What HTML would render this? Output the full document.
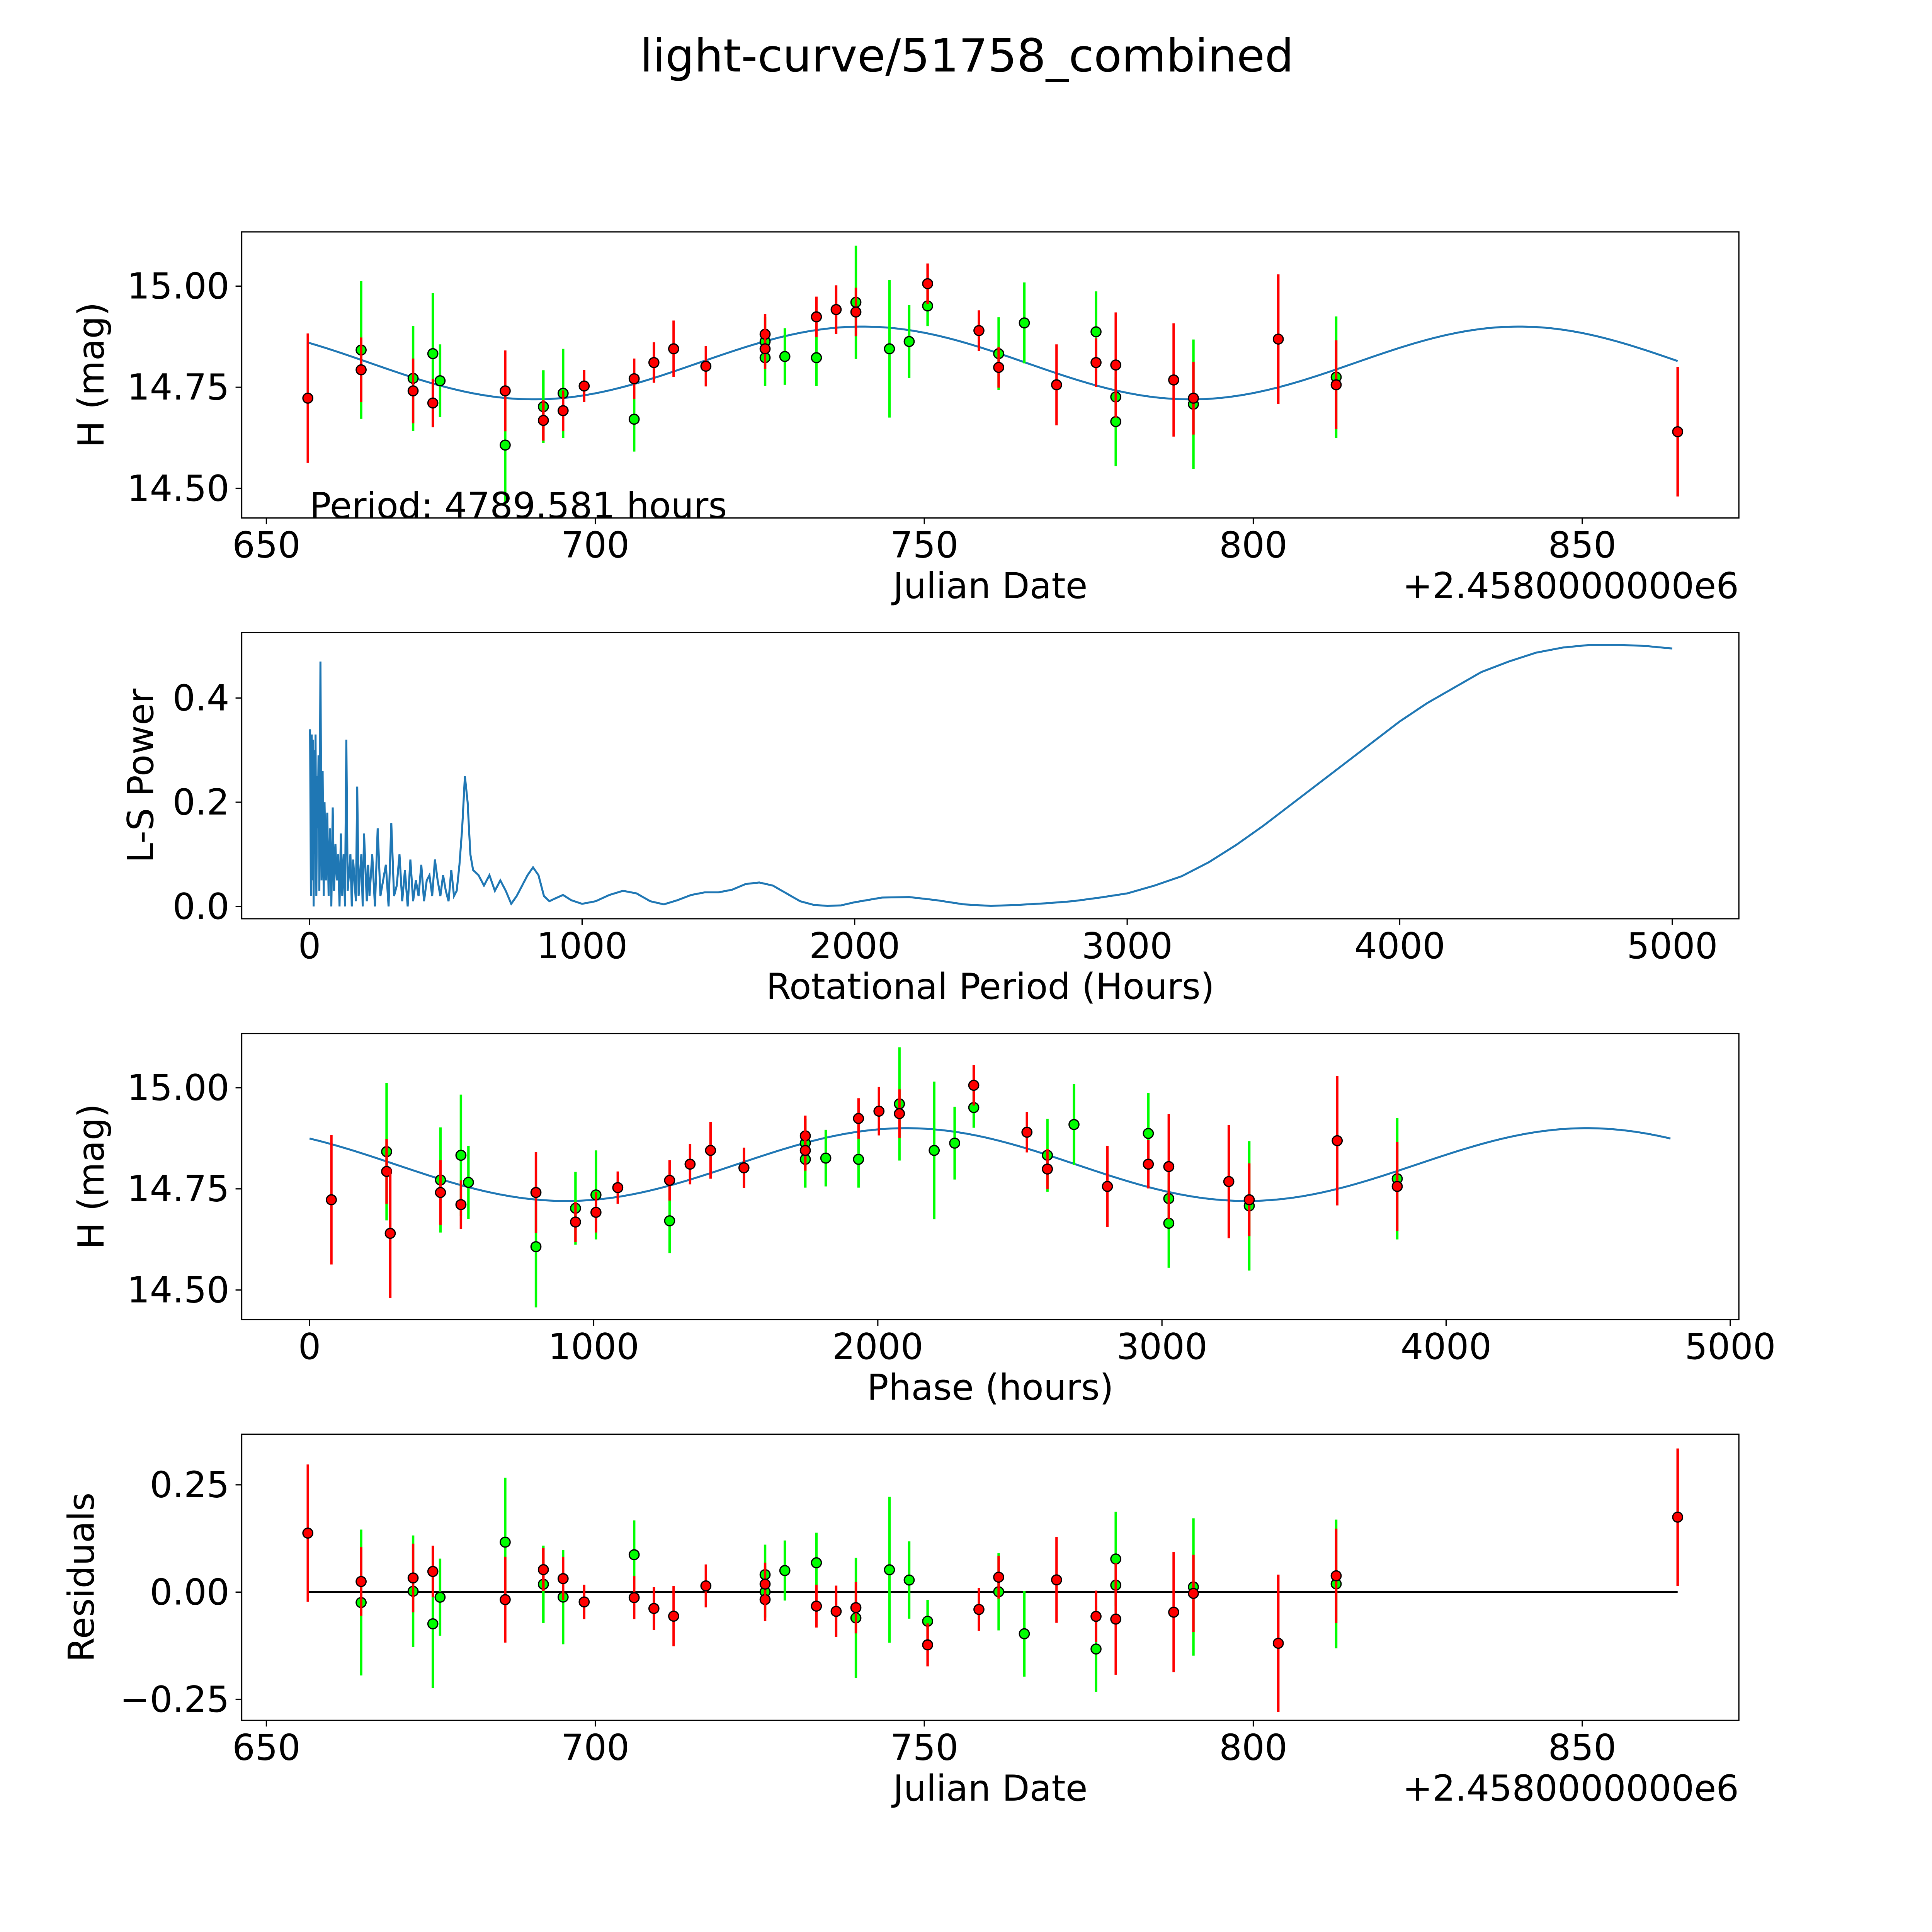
<!DOCTYPE html>
<html><head><meta charset="utf-8"><style>
html,body{margin:0;padding:0;background:#fff;width:100vw;height:100vh;overflow:hidden}
svg{display:block;width:100vw;height:100vh}
text{font-family:"DejaVu Sans","Liberation Sans",sans-serif;fill:#000}
</style></head><body>
<svg id="fig" viewBox="0 0 1566.6 1566.6" preserveAspectRatio="none" xmlns="http://www.w3.org/2000/svg">
<rect width="1566.6" height="1566.6" fill="#fff"/>
<text x="784" y="58" font-size="37" text-anchor="middle">light-curve/51758_combined</text>
<g id="g"></g>
</svg>
<script>
// ---- data ----
const redJD=[656.3,664.4,672.3,675.3,686.3,692.1,695.1,698.3,705.9,708.9,711.9,716.8,725.8,725.8,733.6,736.6,739.6,750.5,758.3,761.3,770.1,776.1,779.1,787.9,790.9,803.8,812.6,864.5];
const redMag=[14.723,14.793,14.741,14.711,14.741,14.668,14.692,14.753,14.771,14.811,14.845,14.802,14.881,14.845,14.924,14.942,14.936,15.006,14.890,14.799,14.756,14.811,14.805,14.768,14.723,14.869,14.756,14.640];
const redErr=[0.16,0.08,0.08,0.06,0.10,0.05,0.05,0.04,0.05,0.05,0.07,0.05,0.05,0.05,0.05,0.06,0.06,0.05,0.05,0.05,0.10,0.06,0.13,0.14,0.09,0.16,0.11,0.16];
const greenJD=[664.4,672.3,675.3,676.4,686.3,692.1,695.1,705.9,725.8,725.8,728.8,733.6,739.6,744.7,747.7,750.5,761.3,765.2,776.1,779.1,779.1,790.9,812.6];
const greenMag=[14.842,14.772,14.833,14.766,14.607,14.702,14.735,14.671,14.823,14.863,14.826,14.823,14.960,14.845,14.863,14.951,14.833,14.909,14.887,14.726,14.665,14.708,14.775];
const greenErr=[0.17,0.13,0.15,0.09,0.15,0.09,0.11,0.08,0.07,0.06,0.07,0.07,0.14,0.17,0.09,0.05,0.09,0.10,0.10,0.06,0.11,0.16,0.15];
const PERIOD_H=4789.581, T0=653.1, MEAN=14.81, AMP=0.09, TPEAK=740.6;
const lsPeriod=[2,5,8,10,12,15,18,20,22,25,28,30,33,36,40,44,48,52,55,60,65,70,75,80,85,90,95,100,105,110,115,120,125,130,135,140,150,155,160,170,175,180,190,195,200,210,215,220,230,240,250,260,270,280,290,300,310,320,330,340,350,360,370,380,390,400,410,420,430,440,450,460,470,480,490,500,510,520,530,540,550,560,570,580,590,600,620,640,660,680,700,720,740,760,780,800,820,840,860,880,900,930,960,1000,1050,1100,1150,1200,1250,1300,1350,1400,1450,1500,1550,1600,1650,1700,1750,1800,1850,1900,1950,2000,2100,2200,2300,2400,2500,2600,2700,2800,2900,3000,3100,3200,3300,3400,3500,3600,3700,3800,3900,4000,4100,4200,4300,4400,4500,4600,4700,4800,4900,5000];
const lsPower=[0.34,0.02,0.33,0.05,0.32,0.0,0.3,0.1,0.33,0.02,0.25,0.15,0.29,0.03,0.47,0.05,0.26,0.02,0.2,0.05,0.18,0.02,0.15,0.0,0.19,0.03,0.12,0.05,0.1,0.0,0.14,0.02,0.1,0.0,0.32,0.03,0.1,0.0,0.09,0.01,0.23,0.02,0.1,0.0,0.14,0.01,0.08,0.02,0.1,0.0,0.15,0.02,0.05,0.08,0.0,0.16,0.02,0.04,0.1,0.01,0.07,0.0,0.09,0.01,0.05,0.02,0.08,0.01,0.05,0.06,0.02,0.09,0.05,0.02,0.06,0.03,0.01,0.07,0.02,0.03,0.08,0.15,0.25,0.2,0.1,0.07,0.06,0.04,0.06,0.03,0.05,0.03,0.005,0.02,0.04,0.06,0.075,0.06,0.02,0.01,0.015,0.022,0.012,0.005,0.01,0.022,0.03,0.025,0.01,0.004,0.012,0.022,0.027,0.027,0.032,0.043,0.046,0.04,0.025,0.01,0.003,0.001,0.002,0.008,0.017,0.018,0.012,0.004,0.001,0.003,0.006,0.01,0.017,0.025,0.04,0.058,0.085,0.118,0.155,0.195,0.235,0.275,0.315,0.355,0.39,0.42,0.45,0.47,0.487,0.497,0.502,0.502,0.5,0.495];

// ---- helpers ----
const NS="http://www.w3.org/2000/svg";
const G=document.getElementById('g');
function mk(tag,attrs,parent,name,inter){const e=document.createElementNS(NS,tag);for(const k in attrs)e.setAttribute(k,attrs[k]);


(parent||G).appendChild(e);return e;}
function model(t){return MEAN+AMP*Math.cos(4*Math.PI*(t-TPEAK)*24/PERIOD_H);}
function phaseOf(t){let p=((t-T0)*24)%PERIOD_H;if(p<0)p+=PERIOD_H;return p;}
function lin(d0,d1,p0,p1){return v=>p0+(v-d0)*(p1-p0)/(d1-d0);}

function axes(name,y0,y1,xs,ys,xticks,yticks,xfmt,yfmt,xlabel,ylabel,ylx,offset){
  const g=mk('g',{},G,name,false);
  mk('rect',{x:196,y:y0,width:1214,height:y1-y0,fill:'none',stroke:'#000','stroke-width':1},g,name+'-frame',false);
  xticks.forEach(v=>{const x=xs(v);
    mk('line',{x1:x,x2:x,y1:y1,y2:y1+5,stroke:'#000'},g,'x-tick',false);
    const t=mk('text',{x:x,y:y1+32,'font-size':29,'text-anchor':'middle'},g,'x-tick-label',false);t.textContent=xfmt(v);});
  yticks.forEach(v=>{const y=ys(v);
    mk('line',{x1:191,x2:196,y1:y,y2:y,stroke:'#000'},g,'y-tick',false);
    const t=mk('text',{x:186,y:y+10,'font-size':29,'text-anchor':'end'},g,'y-tick-label',false);t.textContent=yfmt(v);});
  const xl=mk('text',{x:803,y:y1+65,'font-size':29,'text-anchor':'middle'},g,'x-axis-title',false);xl.textContent=xlabel;
  const cy=(y0+y1)/2;
  const yl=mk('text',{x:ylx,y:cy,'font-size':29,'text-anchor':'middle',transform:`rotate(-90 ${ylx} ${cy})`},g,'y-axis-title',false);yl.textContent=ylabel;
  if(offset){const o=mk('text',{x:1410,y:y1+65,'font-size':29,'text-anchor':'end'},g,'x-offset-text',false);o.textContent=offset;}
  return g;
}
function pt(g,x,y,ylo,yhi,col,name){
  mk('line',{x1:x,x2:x,y1:ylo,y2:yhi,stroke:col,'stroke-width':2},g,name+'-errorbar',false);
  mk('circle',{cx:x,cy:y,r:4,fill:col,stroke:'#000','stroke-width':1},g,name,false);
}
const f2=v=>v.toFixed(2), f1=v=>v.toFixed(1), fi=v=>String(v);
const jdTicks=[650,700,750,800,850];

// ---- panel 1 ----
{const xs=lin(650,850,216,1283), ys=lin(14.5,15.0,396,232);
 const g=axes('light-curve-panel',188,420,xs,ys,jdTicks,[14.5,14.75,15.0],fi,f2,'Julian Date','H (mag)',84,'+2.4580000000e6');
 let d='';for(let i=0;i<=300;i++){const t=redJD[0]+(redJD[redJD.length-1]-redJD[0])*i/300;d+=(i?'L':'M')+xs(t).toFixed(2)+','+ys(model(t)).toFixed(2);}
 mk('path',{d:d,fill:'none',stroke:'#1f77b4','stroke-width':1.6},g,'model-curve',false);
 greenJD.forEach((t,i)=>pt(g,xs(t),ys(greenMag[i]),ys(greenMag[i]-greenErr[i]),ys(greenMag[i]+greenErr[i]),'#00ff00','green-point'));
 redJD.forEach((t,i)=>pt(g,xs(t),ys(redMag[i]),ys(redMag[i]-redErr[i]),ys(redMag[i]+redErr[i]),'#ff0000','red-point'));
 const p=mk('text',{x:251,y:420,'font-size':29},g,'period-annotation',false);p.textContent='Period: '+PERIOD_H.toFixed(3)+' hours';
}
// ---- panel 2 ----
{const xs=lin(0,5000,251,1356), ys=lin(0,0.4,735,566);
 const g=axes('periodogram-panel',513,745,xs,ys,[0,1000,2000,3000,4000,5000],[0,0.2,0.4],fi,f1,'Rotational Period (Hours)','L-S Power',124,null);
 let d='';lsPeriod.forEach((p,i)=>{d+=(i?'L':'M')+xs(p).toFixed(2)+','+ys(lsPower[i]).toFixed(2);});
 mk('path',{d:d,fill:'none',stroke:'#1f77b4','stroke-width':1.6},g,'periodogram-line',false);
}
// ---- panel 3 ----
{const xs=lin(0,5000,251,1403), ys=lin(14.5,15.0,1046,882);
 const g=axes('phase-panel',838,1070,xs,ys,[0,1000,2000,3000,4000,5000],[14.5,14.75,15.0],fi,f2,'Phase (hours)','H (mag)',84,null);
 let d='';for(let i=0;i<=300;i++){const ph=PERIOD_H*i/300;const t=T0+ph/24;d+=(i?'L':'M')+xs(ph).toFixed(2)+','+ys(model(t)).toFixed(2);}
 mk('path',{d:d,fill:'none',stroke:'#1f77b4','stroke-width':1.6},g,'phase-model-curve',false);
 greenJD.forEach((t,i)=>{const x=xs(phaseOf(t));pt(g,x,ys(greenMag[i]),ys(greenMag[i]-greenErr[i]),ys(greenMag[i]+greenErr[i]),'#00ff00','green-phase-point');});
 redJD.forEach((t,i)=>{const x=xs(phaseOf(t));pt(g,x,ys(redMag[i]),ys(redMag[i]-redErr[i]),ys(redMag[i]+redErr[i]),'#ff0000','red-phase-point');});
}
// ---- panel 4 ----
{const xs=lin(650,850,216,1283), ys=lin(0,0.25,1291,1204);
 const g=axes('residuals-panel',1163,1395,xs,ys,jdTicks,[-0.25,0,0.25],fi,v=>(v<0?'\u2212':'')+Math.abs(v).toFixed(2),'Julian Date','Residuals',76,'+2.4580000000e6');
 mk('line',{x1:xs(redJD[0]),x2:xs(redJD[redJD.length-1]),y1:ys(0),y2:ys(0),stroke:'#000','stroke-width':1.5},g,'zero-line',false);
 greenJD.forEach((t,i)=>{const r=model(t)-greenMag[i];pt(g,xs(t),ys(r),ys(r-greenErr[i]),ys(r+greenErr[i]),'#00ff00','green-residual');});
 redJD.forEach((t,i)=>{const r=model(t)-redMag[i];pt(g,xs(t),ys(r),ys(r-redErr[i]),ys(r+redErr[i]),'#ff0000','red-residual');});
}
</script>
</body></html>
